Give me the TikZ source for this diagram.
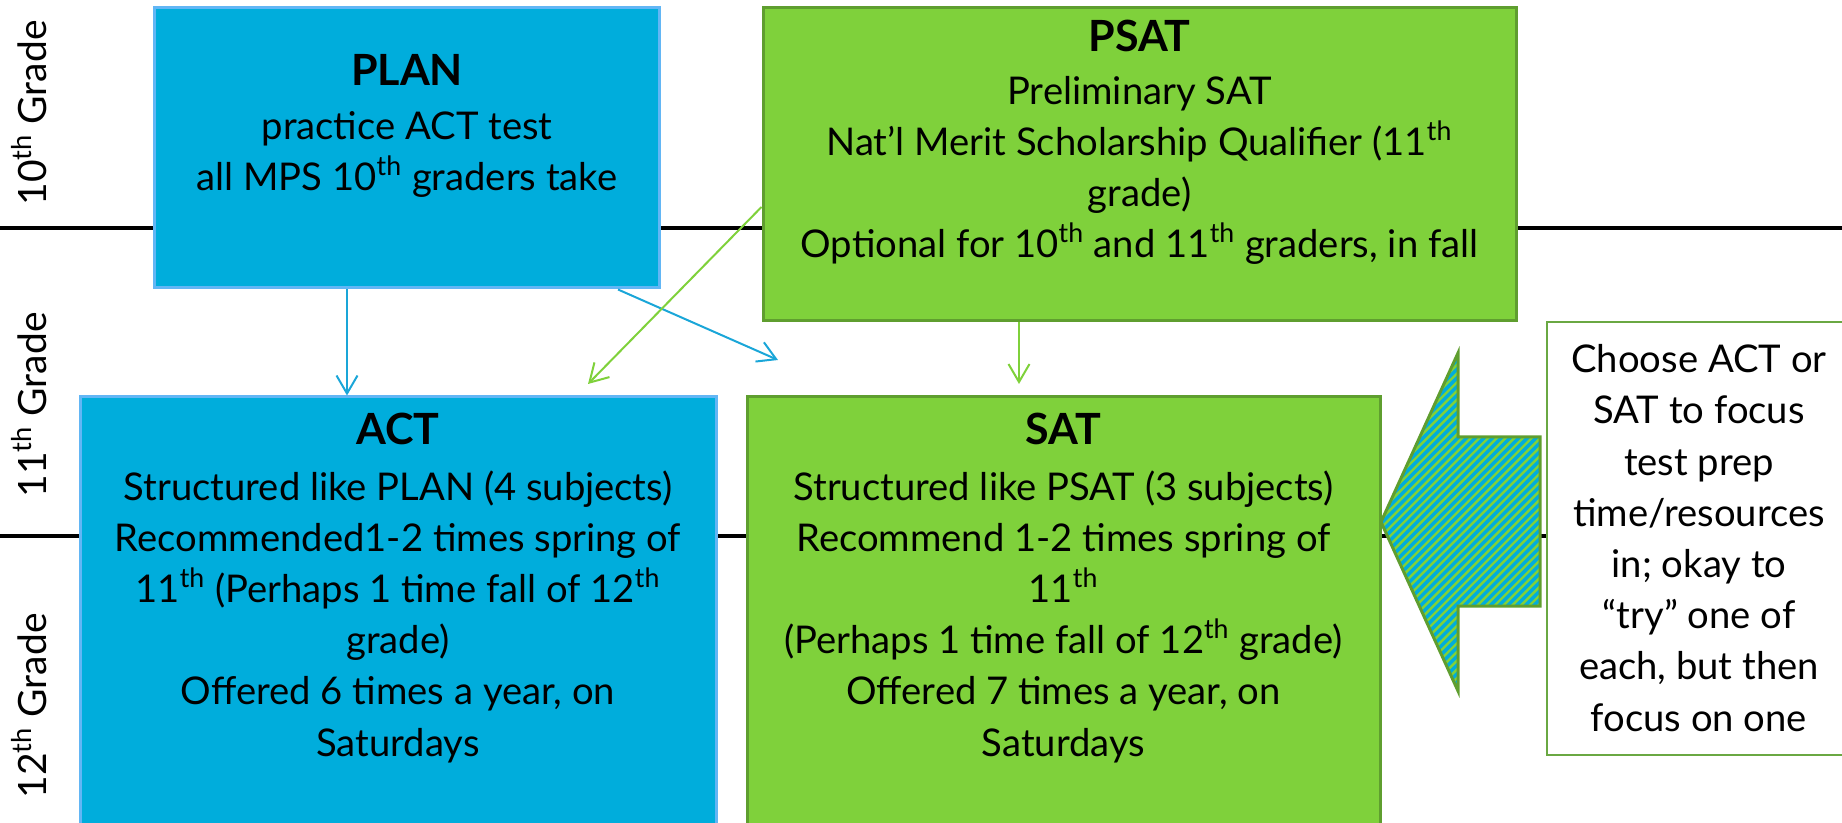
\documentclass[tikz,border=0pt]{standalone}
\usepackage{fontspec}
\setmainfont{Lato}
\usetikzlibrary{arrows.meta,fit}
\definecolor{cyanfill}{HTML}{00ADDC}
\definecolor{blueedge}{HTML}{62B6F5}
\definecolor{greenfill}{HTML}{7FD13B}
\definecolor{greenedge}{HTML}{5F9E2F}
\definecolor{noteedge}{HTML}{6AA843}
\definecolor{bluearrow}{HTML}{1AA6D8}
\newcommand{\ttlfont}{\fontsize{21.5}{25.6}\selectfont\bfseries}
\begin{document}
\begin{tikzpicture}[x=0.5pt,y=-0.5pt,
 bluebox/.style={draw=blueedge, fill=cyanfill, line width=1.5pt, inner sep=0pt},
 greenbox/.style={draw=greenedge, fill=greenfill, line width=1.5pt, inner sep=0pt},
 notebox/.style={draw=noteedge, fill=white, line width=1pt, inner sep=0pt},
 body/.style={align=center, inner sep=0pt, anchor=base, font=\fontsize{19.1}{25.6}\selectfont},
 gradelabel/.style={rotate=90, font=\fontsize{19.5}{24}\selectfont, inner sep=0pt},
 conn/.style={line width=1pt, -{Straight Barb[length=9pt,width=10.5pt]}},
]
\useasboundingbox (0,0) rectangle (1842,823);
% grade separator lines
\draw[line width=2.3pt] (0,228) -- (1842,228);
\draw[line width=2.3pt] (0,536) -- (1842,536);
% grade labels
\node[gradelabel] (g10) at (29,113) {10\textsuperscript{th} Grade};
\node[gradelabel] (g11) at (29,405) {11\textsuperscript{th} Grade};
\node[gradelabel] (g12) at (29,706) {12\textsuperscript{th} Grade};
% boxes
\node[bluebox, fit={(154,8)(659,288)}] (PLAN) {};
\node[greenbox, fit={(763,8)(1516,321)}] (PSAT) {};
\node[bluebox, fit={(80,397)(716,845)}] (ACT) {};
\node[greenbox, fit={(747,397)(1380,845)}] (SAT) {};
\node[notebox, fit={(1547,322)(1860,755)}] (NOTE) {};
% texts (anchored at the baseline of the last line)
\node[body] (PLANt) at (407,191) {{\ttlfont PLAN}\\[1.6pt]
 practice ACT test\\ all MPS 10\textsuperscript{th} graders take};
\node[body] (PSATt) at (1139.5,258) {{\ttlfont PSAT}\\[0.9pt]
 Preliminary SAT\\ Nat’l Merit Scholarship Qualifier (11\textsuperscript{th}\\ grade)\\
 Optional for 10\textsuperscript{th} and 11\textsuperscript{th} graders, in fall};
\node[body] (ACTt) at (398,756) {{\ttlfont ACT}\\[2.4pt]
 Structured like PLAN (4 subjects)\\ Recommended1-2 times spring of\\
 11\textsuperscript{th} (Perhaps 1 time fall of 12\textsuperscript{th}\\ grade)\\
 Offered 6 times a year, on\\ Saturdays};
\node[body] (SATt) at (1063.5,756) {{\ttlfont SAT}\\[2.4pt]
 Structured like PSAT (3 subjects)\\ Recommend 1-2 times spring of\\
 11\textsuperscript{th}\\ (Perhaps 1 time fall of 12\textsuperscript{th} grade)\\
 Offered 7 times a year, on\\ Saturdays};
\node[body] (NOTEt) at (1699,731) {Choose ACT or\\ SAT to focus\\ test prep\\ time/resources\\
 in; okay to\\ “try” one of\\ each, but then\\ focus on one};
% connectors
\coordinate (xa) at (347,0);
\coordinate (xb) at (618,0);
\coordinate (bd) at (778,360);
\coordinate (yg) at (0,207);
\coordinate (gd) at (588,384);
\coordinate (xg) at (1019,0);
\coordinate (ge) at (1019,384);
\draw[conn, bluearrow] (PLAN.south -| xa) -- (ACT.north -| xa);
\draw[conn, bluearrow] (PLAN.south -| xb) -- (bd);
\draw[conn, greenfill] (PSAT.west |- yg) -- (gd);
\draw[conn, greenfill] (PSAT.south -| xg) -- (ge);
% hatched block arrow
\begin{scope}
\path[clip] (1381,522) -- (1458,353) -- (1458,437) -- (1540,437) -- (1540,606) -- (1458,606) -- (1458,691) -- cycle;
\fill[cyanfill] (1370,340) rectangle (1550,700);
\foreach \s in {1000,1008.7,...,1560} \draw[greenfill, line width=1.2pt] (\s,700) -- (\s+360,340);
\end{scope}
\draw[greenedge, line width=1.5pt, line join=miter] (1381,522) -- (1458,353) -- (1458,437) -- (1540,437) -- (1540,606) -- (1458,606) -- (1458,691) -- cycle;
\end{tikzpicture}
\end{document}
